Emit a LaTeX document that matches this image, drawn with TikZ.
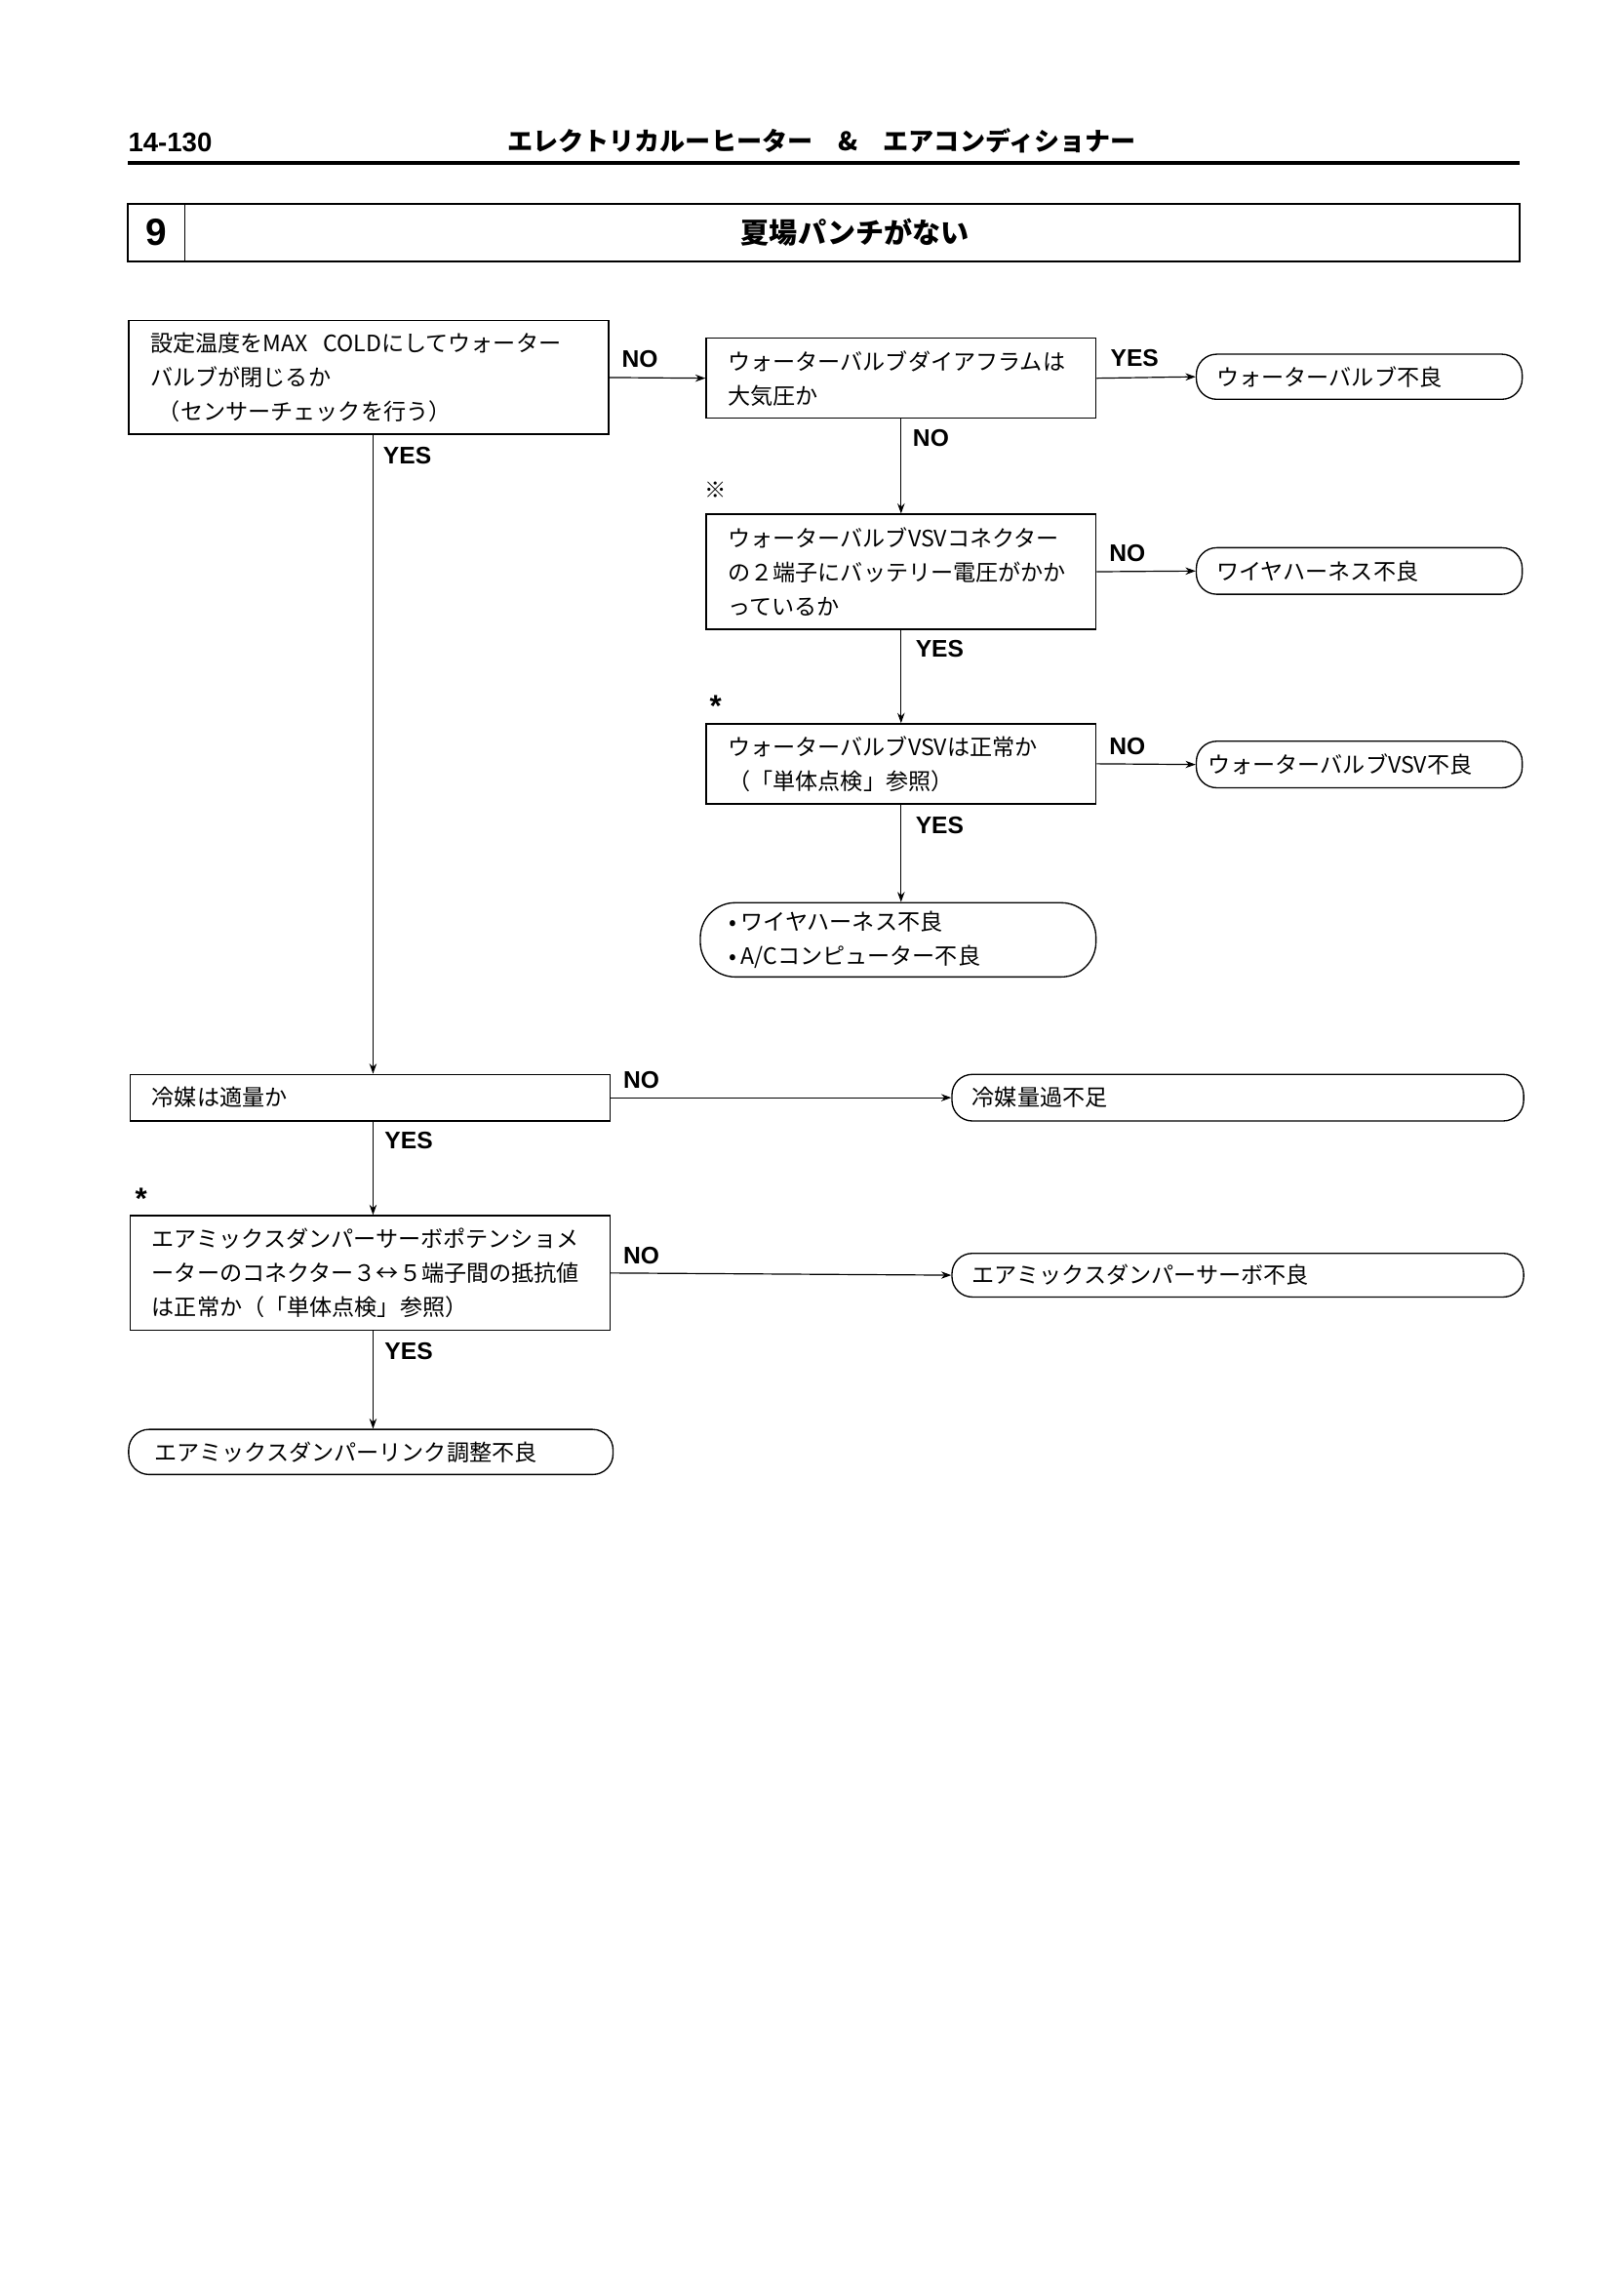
\documentclass[tikz,border=0pt]{standalone}
\usepackage{fontspec}
\setmainfont{Noto Sans CJK JP}
\newfontfamily\lsans{Liberation Sans}
\usetikzlibrary{arrows.meta}
\newcommand{\bodyf}{\fontsize{15.5pt}{23.5pt}\selectfont}
\tikzset{
  box/.style={draw, line width=0.9pt, rectangle, anchor=north west, align=left, inner xsep=15pt, inner ysep=0pt, font=\bodyf},
  term/.style={draw, line width=0.9pt, rectangle, anchor=north west, align=left, inner xsep=14pt, inner ysep=0pt, font=\bodyf},
  lbl/.style={font=\lsans\bfseries\fontsize{16.5pt}{18pt}\selectfont, inner sep=0pt},
  refmark/.style={font=\fontsize{15pt}{18pt}\selectfont, inner sep=0pt},
  starmark/.style={font=\lsans\bfseries\fontsize{21pt}{22pt}\selectfont, inner sep=0pt},
  arr/.style={line width=0.8pt, -{Stealth[length=7pt,width=5pt]}}
}
\begin{document}
\begin{tikzpicture}[x=1pt,y=-1pt]
\useasboundingbox (0,0) rectangle (1115.8,1566.4);
% header
\node[font=\lsans\bfseries\fontsize{18.5pt}{20pt}\selectfont, anchor=base west, inner sep=0pt] (pg) at (88,104) {14-130};
\node[font=\bfseries\fontsize{17.5pt}{19pt}\selectfont, anchor=base, inner sep=0pt] (hd) at (565,103.5) {エレクトリカルーヒーター\hspace{1em}\&\hspace{1em}エアコンディショナー};
\draw[line width=2.4pt] (88,112) -- (1045,112);
% title box
\draw[line width=1.4pt] (88,140) rectangle (1045,180);
\draw[line width=1.2pt] (127,140) -- (127,180);
\node[font=\lsans\bfseries\fontsize{26pt}{28pt}\selectfont, inner sep=0pt] (num) at (107.5,160) {9};
\node[font=\bfseries\fontsize{19.5pt}{21pt}\selectfont, inner sep=0pt] (ttl) at (588,160) {夏場パンチがない};
% decision boxes
\node[box, text width=300pt, minimum height=78pt] (A) at (88,220) {設定温度をMAX\ \ COLDにしてウォーター\\バルブが閉じるか\\\ （センサーチェックを行う）};
\node[box, text width=238pt, minimum height=55pt] (B) at (485,232) {ウォーターバルブダイアフラムは\\大気圧か};
\node[box, text width=238pt, minimum height=79pt] (C) at (485,353) {ウォーターバルブVSVコネクター\\の２端子にバッテリー電圧がかか\\っているか};
\node[box, text width=238pt, minimum height=55pt] (D) at (485,497) {ウォーターバルブVSVは正常か\\（「単体点検」参照）};
\node[box, text width=300pt, minimum height=32pt] (E) at (89,738) {冷媒は適量か};
\node[box, text width=300pt, minimum height=79pt] (F) at (89,835) {エアミックスダンパーサーボポテンショメ\\ーターのコネクター３↔５端子間の抵抗値\\は正常か（「単体点検」参照）};
% terminal boxes
\node[term, rounded corners=14pt, text width=196pt, minimum height=31pt] (R1) at (822,243) {ウォーターバルブ不良};
\node[term, rounded corners=14pt, text width=196pt, minimum height=32pt] (R2) at (822,376) {ワイヤハーネス不良};
\node[term, rounded corners=14pt, text width=208pt, minimum height=32pt, inner xsep=8pt] (R3) at (822,509) {ウォーターバルブVSV不良};
\node[term, rounded corners=24pt, text width=232pt, minimum height=51pt, inner xsep=20pt] (R4) at (481,620) {•\,ワイヤハーネス不良\\•\,A/Cコンピューター不良};
\node[term, rounded corners=14pt, text width=365pt, minimum height=32pt] (R5) at (654,738) {冷媒量過不足};
\node[term, rounded corners=14pt, text width=365pt, minimum height=30pt] (R6) at (654,861) {エアミックスダンパーサーボ不良};
\node[term, rounded corners=14pt, text width=297pt, minimum height=31pt, inner xsep=18pt] (R7) at (88,982) {エアミックスダンパーリンク調整不良};
% connectors
\draw[arr] (A.east) -- (B.west);
\draw[arr] (B.east) -- (R1.west);
\draw[arr] (B.south) -- (C.north);
\draw[arr] (C.east) -- (R2.west);
\draw[arr] (C.south) -- (D.north);
\draw[arr] (D.east) -- (R3.west);
\draw[arr] (D.south) -- (D.south |- R4.north);
\draw[arr] ([xshift=3pt]A.south) -- ([xshift=3pt]A.south |- E.north);
\draw[arr] (E.east) -- (R5.west);
\draw[arr] ([xshift=2pt]E.south) -- ([xshift=2pt]F.north);
\draw[arr] (F.east) -- (R6.west);
\draw[arr] ([xshift=2pt]F.south) -- ([xshift=2pt]F.south |- R7.north);
% labels
\node[lbl] (l1) at (440,247) {NO};
\node[lbl] (l2) at (780,246) {YES};
\node[lbl] (l3) at (640,301) {NO};
\node[lbl] (l4) at (775,380) {NO};
\node[lbl] (l5) at (646,446) {YES};
\node[lbl] (l6) at (775,513) {NO};
\node[lbl] (l7) at (646,567) {YES};
\node[lbl] (l8) at (280,313) {YES};
\node[lbl] (l9) at (441,742) {NO};
\node[lbl] (l10) at (281,784) {YES};
\node[lbl] (l11) at (441,863) {NO};
\node[lbl] (l12) at (281,929) {YES};
% markers
\node[refmark] (m1) at (492,337) {※};
\node[starmark] (m2) at (492,485) {*};
\node[starmark] (m3) at (97,824) {*};
\end{tikzpicture}
\end{document}
